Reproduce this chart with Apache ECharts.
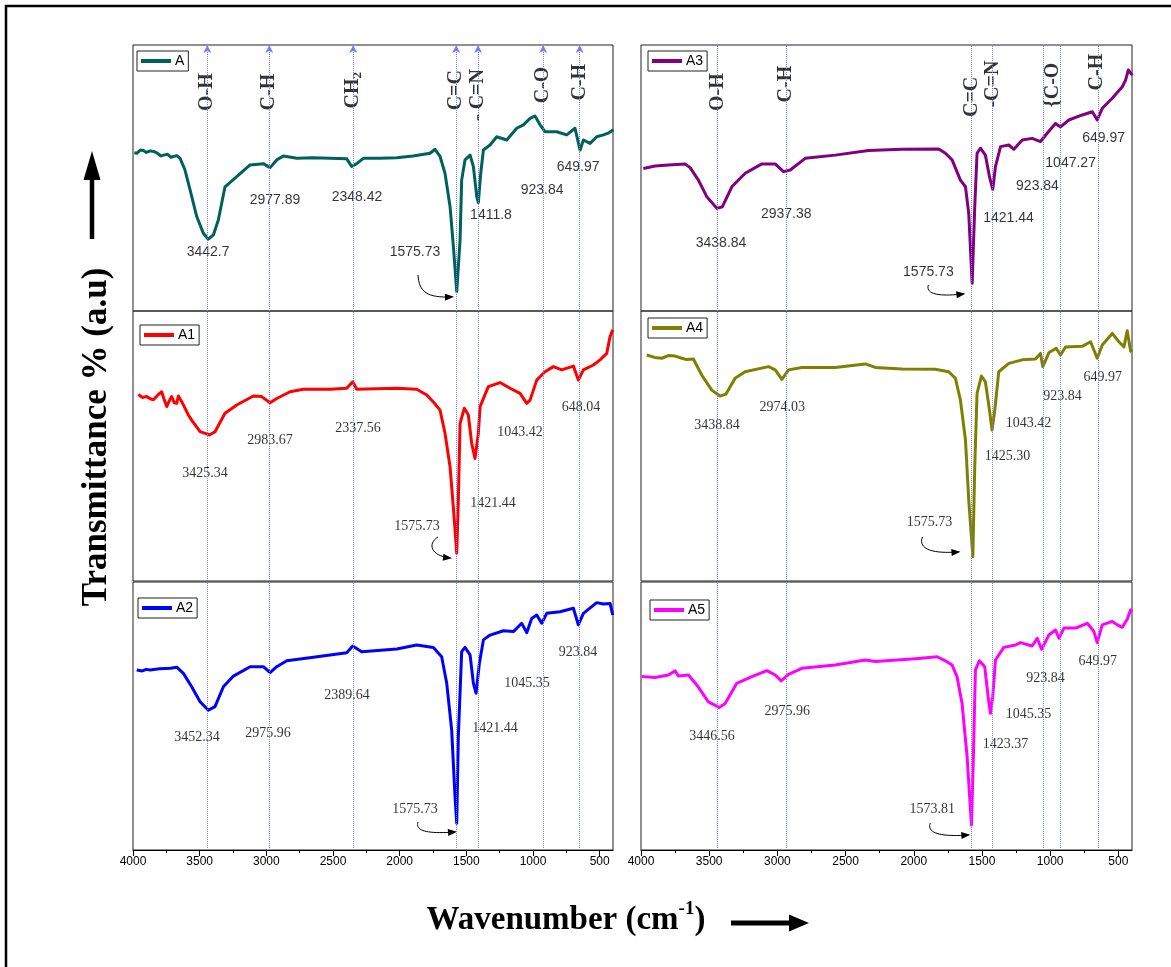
<!DOCTYPE html>
<html><head><meta charset="utf-8">
<script src="https://cdn.jsdelivr.net/npm/echarts@6/dist/echarts.min.js"></script>
<style>html,body{margin:0;padding:0;background:#fff}#c{width:1171px;height:967px}</style>
</head><body><div id="c"></div>
<script>
// ---------- data ----------
const majorTicks = [4000,3500,3000,2500,2000,1500,1000,500];
const minorTicks = [3750,3250,2750,2250,1750,1250,750];
const names = ['A','A1','A2','A3','A4','A5'];

const specA = [[3990,59.5],[3972,59.3],[3945,60.5],[3922,60.3],[3900,59.6],[3870,60.2],[3847,60],[3820,59.4],[3790,58.3],[3772,58.6],[3740,58.9],[3715,57.8],[3697,58.1],[3670,58.4],[3647,57.4],[3610,53],[3572,45.5],[3522,35.5],[3472,29.2],[3435,27],[3397,28.6],[3360,34.2],[3310,46.7],[3222,50.5],[3122,54.9],[3022,55.4],[2972,53.9],[2922,56.8],[2872,58.3],[2772,57.4],[2650,57.6],[2522,57.4],[2397,57.2],[2360,54.3],[2322,55.4],[2272,57.4],[2150,57.4],[2022,57.6],[1900,58.3],[1772,59.3],[1735,60.8],[1697,58.1],[1660,51.8],[1622,39.2],[1597,24.2],[1572,7.3],[1547,26.7],[1535,49.2],[1510,56.8],[1472,58.6],[1447,54.3],[1422,43],[1410,40.7],[1392,51.8],[1372,60.5],[1322,62.4],[1272,65.5],[1197,64.3],[1122,68.7],[1072,70],[1022,72.4],[985,73.3],[947,70],[910,67.4],[822,67.4],[747,66.2],[685,68.7],[647,60.5],[622,64.3],[572,63],[522,65.5],[472,66.2],[430,67],[397,68.1]];
const specA1 = [[3960,69.1],[3930,68],[3897,68.3],[3870,67.5],[3847,67.1],[3815,68.8],[3785,70.1],[3765,67],[3747,64.6],[3730,66.5],[3710,68.3],[3690,66],[3672,65.8],[3660,68.5],[3647,68.3],[3630,66],[3610,64],[3585,61.5],[3560,59.6],[3497,55.3],[3427,54.1],[3385,55.3],[3310,62.1],[3222,65.2],[3097,68.5],[3035,68.3],[2972,66],[2922,67.6],[2822,70.1],[2722,71],[2522,71],[2397,71.4],[2352,73.8],[2322,71],[2022,71.4],[1872,71],[1797,68.9],[1747,66.3],[1697,63.3],[1660,54.7],[1622,42.3],[1592,23.8],[1572,10.3],[1560,30],[1547,58.4],[1515,64],[1485,61.5],[1460,51],[1435,45.4],[1410,54.7],[1397,64.6],[1335,72],[1247,73.5],[1172,71.4],[1097,69.5],[1047,65.8],[1022,67],[972,74.4],[910,77.5],[847,79.4],[785,78.2],[697,79.6],[660,74.4],[622,78.2],[547,80],[497,81.9],[447,84.3],[422,90.5],[402,93]];
const specA2 = [[3972,67.2],[3930,66.8],[3900,67.4],[3872,67.2],[3800,67.6],[3720,67.8],[3672,68.2],[3622,65.9],[3560,60.9],[3497,55.3],[3435,52.2],[3385,53.5],[3322,60.9],[3247,64.9],[3122,68.4],[3022,68.4],[2972,66.2],[2922,68.4],[2847,70.6],[2647,71.9],[2397,73.6],[2352,76.1],[2285,74],[2022,75],[1872,76.5],[1747,75.6],[1685,72.1],[1647,62.2],[1610,44.8],[1585,19.9],[1572,10],[1560,42.3],[1535,74],[1510,75.6],[1472,72.8],[1447,62.2],[1427,58.5],[1402,69.7],[1372,78.4],[1322,80.2],[1222,81.8],[1147,81.5],[1085,84.6],[1047,81.1],[1010,86.4],[972,87.7],[935,84.6],[897,88.3],[797,88.9],[697,90.2],[660,84],[622,88.3],[522,92.3],[472,91.8],[422,92],[402,87.7]];
const specA3 = [[3983,53.6],[3897,54.5],[3799,54.9],[3677,55.3],[3640,53.9],[3579,49.2],[3518,43],[3444,38.6],[3403,39.2],[3334,46.7],[3236,51.8],[3114,55.3],[3016,55.3],[2955,52.4],[2906,53],[2796,57.4],[2576,58.6],[2331,60.3],[2086,60.8],[1817,60.9],[1768,59.3],[1719,56.8],[1658,49.2],[1621,46.7],[1597,36.7],[1572,10.4],[1553,39.2],[1536,59.3],[1511,61.2],[1475,58.6],[1445,50.5],[1421,45.7],[1401,54.3],[1364,61.8],[1303,62.4],[1266,60.8],[1205,64.3],[1132,64.9],[1071,63.7],[1022,66.8],[961,70.5],[924,69.2],[863,71.8],[765,73.7],[691,74.9],[655,71.8],[618,76.2],[545,80],[471,84.3],[447,86.8],[427,90.6],[398,88.7]];
const specA4 = [[3958,83.7],[3900,82.8],[3848,82.5],[3800,83.5],[3750,83.3],[3700,82.5],[3665,82],[3616,82.2],[3555,76.3],[3481,70.7],[3420,68.5],[3378,69.2],[3310,75.1],[3237,77.5],[3065,79.4],[3016,78.2],[2967,74.7],[2918,78.2],[2821,79.1],[2576,79.1],[2356,80.4],[2282,79.1],[2086,78.5],[1842,78.4],[1744,77.5],[1695,75.1],[1658,67],[1621,52.2],[1597,30],[1567,9],[1553,42.3],[1536,69.5],[1504,75.9],[1475,73.8],[1445,63.3],[1426,55.9],[1406,63.3],[1377,77.5],[1303,80.6],[1205,81.9],[1108,82.2],[1071,84.3],[1054,79.4],[1010,84.5],[956,86.2],[924,83.7],[887,86.7],[765,86.9],[704,88.6],[655,82.5],[618,87.4],[545,91.7],[496,88.6],[459,86.7],[435,92.7],[410,85.1],[398,85.7]];
const specA5 = [[3995,64.7],[3897,64.4],[3799,65.3],[3750,66.9],[3726,64.9],[3652,65.3],[3591,61.6],[3506,55.3],[3427,53.2],[3383,54.7],[3298,62.2],[3187,64.7],[3077,66.9],[3016,65.3],[2972,63.1],[2918,65.5],[2821,67.8],[2576,69],[2356,70.9],[2282,70.3],[1964,71.5],[1829,72.1],[1768,70.6],[1719,69],[1683,64.7],[1646,54.7],[1609,34.8],[1577,9.3],[1563,34.8],[1548,67.2],[1519,70.6],[1480,68.4],[1455,57.2],[1438,51],[1421,57.2],[1401,70.9],[1340,75.6],[1254,76.5],[1218,77.4],[1132,76.1],[1095,79],[1063,74.9],[1010,80.2],[961,82.1],[936,79],[899,82.8],[814,82.8],[728,84.6],[680,81.6],[655,77.4],[618,84],[545,85.3],[508,84],[471,83.1],[435,86.1],[410,89.6],[398,89]];

// peak annotations: [wavenumber position, value position, text]
const peaksA  = [[3437,22.2,'3442.7'],[2935,41.7,'2977.89'],[2320,42.9,'2348.42'],[1885,22.2,'1575.73'],[1315,36.1,'1411.8'],[932,45.5,'923.84'],[662,54.1,'649.97']];
const peaksA1 = [[3460,40,'3425.34'],[2972,52.2,'2983.67'],[2312,56.7,'2337.56'],[1870,20.4,'1575.73'],[1300,28.9,'1421.44'],[1097,55.2,'1043.42'],[640,64.4,'648.04']];
const peaksA2 = [[3520,42.2,'3452.34'],[2987,43.7,'2975.96'],[2395,57.8,'2389.64'],[1885,15.3,'1575.73'],[1285,45.5,'1421.44'],[1045,62.3,'1045.35'],[663,73.9,'923.84']];
const peaksA3 = [[3413,25.6,'3438.84'],[2935,36.5,'2937.38'],[1893,14.7,'1575.73'],[1305,35,'1421.44'],[1093,47,'923.84'],[850,55.6,'1047.27'],[608,65,'649.97']];
const peaksA4 = [[3442,57.8,'3438.84'],[2965,64.4,'2974.03'],[1885,21.9,'1575.73'],[1313,46.3,'1425.30'],[1159,58.5,'1043.42'],[909,68.5,'923.84'],[615,75.6,'649.97']];
const peaksA5 = [[3479,42.5,'3446.56'],[2928,51.9,'2975.96'],[1864,15.3,'1573.81'],[1328,39.6,'1423.37'],[1159,50.7,'1045.35'],[1034,64.2,'923.84'],[652,70.5,'649.97']];

// reference lines (wavenumbers)
const linesLeft  = [3442.7,2977.89,2348.42,1575.73,1411.8,923.84,649.97];
const linesRight = [3438.84,2937.38,1575.73,1421.44,1047.27,923.84,649.97];

// group labels
const groupsLeft  = [[3442.7,82.3,'O-H'],[2977.89,82.3,'C-H'],[2348.42,83,'CH2'],[1575.73,83,'C=C'],[1411.8,81.2,'- C=N'],[923.84,85,'C-O'],[649.97,86,'C-H']];
const groupsRight = [[3438.84,82.3,'O-H'],[2937.38,85.3,'C-H'],[1575.73,80.5,'C=C'],[1421.44,85.3,'-C=N'],[982,85,'{C-O'],[660,89.8,'C-H']];

// ---------- layout / style ----------
const SERIF = "'Liberation Serif','Times New Roman',serif";
const SANS = "'Liberation Sans',Arial,sans-serif";
const colors = ['#00615c','#ff0000','#0000ff','#800080','#808000','#ff00ff'];
const specs = [specA,specA1,specA2,specA3,specA4,specA5];
const peaks = [peaksA,peaksA1,peaksA2,peaksA3,peaksA4,peaksA5];
const peakFont = [SANS,SERIF,SERIF,SANS,SERIF,SERIF];
const gridsPx = [
  {left:133,top:45,width:480,height:266},
  {left:133,top:311,width:480,height:270},
  {left:133,top:582,width:480,height:268},
  {left:641,top:45,width:491,height:266},
  {left:641,top:311,width:491,height:270},
  {left:641,top:582,width:491,height:268}
];
const legendPos = [[137,51],[140,325],[138,598],[648,51],[648,318],[650,600]];
const arrowIdx = [3,3,3,2,2,2];
const arrowOffsets = [
  [[3,23],[4,40],[12,46],[37,45]],
  [[21,11],[10,18],[14,30],[33,32]],
  [[3,13],[0,22],[12,25],[40,23]],
  [[0,13],[-3,22],[10,25],[35,22]],
  [[-7,15],[-12,28],[5,32],[29,30]],
  [[-2,14],[-6,24],[8,28],[36,26]]
];

const isBottom = i => i===2 || i===5;
const grid = gridsPx.map(g => Object.assign({show:true, borderColor:'#222', borderWidth:1, backgroundColor:'transparent'}, g));
const xAxis = gridsPx.map((g,i)=>({
  type:'value', gridIndex:i, position:'bottom', min:400, max:4000, inverse:true,
  axisLine:{show:isBottom(i), lineStyle:{color:'#000', width:1}},
  axisTick:{show:isBottom(i), customValues:majorTicks, length:6, lineStyle:{color:'#000'}},
  axisLabel:{show:isBottom(i), customValues:majorTicks, formatter:v=>String(v), color:'#000', fontSize:12, fontFamily:SANS, margin:6},
  splitLine:{show:false}
}));
[2,5].forEach(i=>xAxis.push({
  type:'value', gridIndex:i, position:'bottom', offset:0, min:400, max:4000, inverse:true,
  axisLine:{show:false},
  axisTick:{show:true, customValues:minorTicks, length:3, lineStyle:{color:'#000'}},
  axisLabel:{show:false}, splitLine:{show:false}
}));
const yAxis = gridsPx.map((g,i)=>({
  type:'value', gridIndex:i, min:0, max:100,
  axisLine:{show:false}, axisTick:{show:false}, axisLabel:{show:false}, splitLine:{show:false}
}));

const series = [];
specs.forEach((d,i)=>{
  const left = i<3;
  series.push({
    name:names[i], type:'line', xAxisIndex:i, yAxisIndex:i, data:d,
    showSymbol:false, symbol:'none', silent:true, z:3,
    lineStyle:{color:colors[i], width:3, join:'round'}, itemStyle:{color:colors[i]},
    markLine:{
      silent:true, animation:false,
      symbol: i===0 ? ['none','arrow'] : ['none','none'], symbolSize:[6,8],
      label:{show:false},
      lineStyle:{color:'#6f7fff', width:1, type:'dotted'},
      emphasis:{disabled:true},
      data:(left?linesLeft:linesRight).map(v=>({xAxis:v}))
    }
  });
  series.push({
    type:'scatter', xAxisIndex:i, yAxisIndex:i, data:peaks[i], symbolSize:1, silent:true,
    itemStyle:{color:'transparent'},
    label:{show:true, position:'inside', formatter:p=>p.data[2], color:'#000', textBorderWidth:0,
      fontSize:14, fontFamily:peakFont[i]}
  });
});
[[0,groupsLeft],[3,groupsRight]].forEach(([i,gl])=>{
  series.push({
    type:'scatter', xAxisIndex:i, yAxisIndex:i, data:gl, symbolSize:1, silent:true,
    itemStyle:{color:'transparent'},
    label:{show:true, position:'inside', rotate:90, color:'#000', textBorderWidth:0,
      fontSize:20, fontWeight:'bold', fontFamily:SERIF,
      formatter:p=> p.data[2]==='CH2' ? '{b|CH}{s|2}' : p.data[2],
      rich:{b:{fontSize:20,fontWeight:'bold',fontFamily:SERIF,color:'#000',lineHeight:22},
            s:{fontSize:13,fontWeight:'bold',fontFamily:SERIF,color:'#000',lineHeight:22,verticalAlign:'bottom',padding:[8,0,0,0]}}
    }
  });
});

const legend = names.map((n,i)=>({
  data:[n], left:legendPos[i][0], top:legendPos[i][1], orient:'horizontal',
  icon:'rect', itemWidth:30, itemHeight:4, itemGap:4,
  borderColor:'#222', borderWidth:1, padding:[3,4,3,4], backgroundColor:'#fff',
  textStyle:{fontSize:14, fontFamily:SANS, color:'#000', padding:[0,0,0,-1]},
  selectedMode:false
}));

const chart = echarts.init(document.getElementById('c'), null, {renderer:'canvas'});
chart.setOption({animation:false, backgroundColor:'#fff', grid, xAxis, yAxis, series, legend});

// ---------- decorations ----------
const graphic = [];
graphic.push({type:'rect', shape:{x:6,y:6,width:1200,height:1000}, style:{fill:'none', stroke:'#000', lineWidth:2.5}, silent:true});
graphic.push({type:'text', x:97, y:437, rotation:Math.PI/2, silent:true,
  style:{text:'Transmittance % (a.u)', font:"bold 35px 'Liberation Serif','Times New Roman',serif", fill:'#000', textAlign:'center', textVerticalAlign:'middle'}});
graphic.push({type:'line', shape:{x1:92,y1:239,x2:92,y2:172}, style:{stroke:'#000', lineWidth:4.5}, silent:true});
graphic.push({type:'polygon', shape:{points:[[83.5,180],[100.5,180],[92,151]]}, style:{fill:'#000'}, silent:true});
graphic.push({type:'text', x:566, y:920, silent:true,
  style:{text:'{a|Wavenumber (cm}{s|-1}{a|)}', textAlign:'center', textVerticalAlign:'middle',
    rich:{a:{font:"bold 33px 'Liberation Serif','Times New Roman',serif", fill:'#000', lineHeight:40},
          s:{font:"bold 19px 'Liberation Serif','Times New Roman',serif", fill:'#000', lineHeight:40, verticalAlign:'top', padding:[0,0,14,0]}}}});
graphic.push({type:'line', shape:{x1:731,y1:923,x2:795,y2:923}, style:{stroke:'#000', lineWidth:5}, silent:true});
graphic.push({type:'polygon', shape:{points:[[789,914.5],[789,931.5],[809,923]]}, style:{fill:'#000'}, silent:true});

peaks.forEach((pk,i)=>{
  const lab = pk[arrowIdx[i]];
  const c = chart.convertToPixel({xAxisIndex:i, yAxisIndex:i}, [lab[0], lab[1]]);
  const o = arrowOffsets[i];
  const P = o.map(q=>[c[0]+q[0], c[1]+q[1]]);
  graphic.push({type:'bezierCurve', silent:true,
    shape:{x1:P[0][0],y1:P[0][1],cpx1:P[1][0],cpy1:P[1][1],cpx2:P[2][0],cpy2:P[2][1],x2:P[3][0],y2:P[3][1]},
    style:{stroke:'#000', lineWidth:1, fill:'none'}});
  let dx=P[3][0]-P[2][0], dy=P[3][1]-P[2][1]; const L=Math.hypot(dx,dy)||1; dx/=L; dy/=L;
  const nx=-dy, ny=dx, E=P[3];
  graphic.push({type:'polygon', silent:true,
    shape:{points:[[E[0]+dx*2,E[1]+dy*2],[E[0]-dx*7+nx*3.5,E[1]-dy*7+ny*3.5],[E[0]-dx*7-nx*3.5,E[1]-dy*7-ny*3.5]]},
    style:{fill:'#000'}});
});
chart.setOption({graphic});
</script></body></html>
